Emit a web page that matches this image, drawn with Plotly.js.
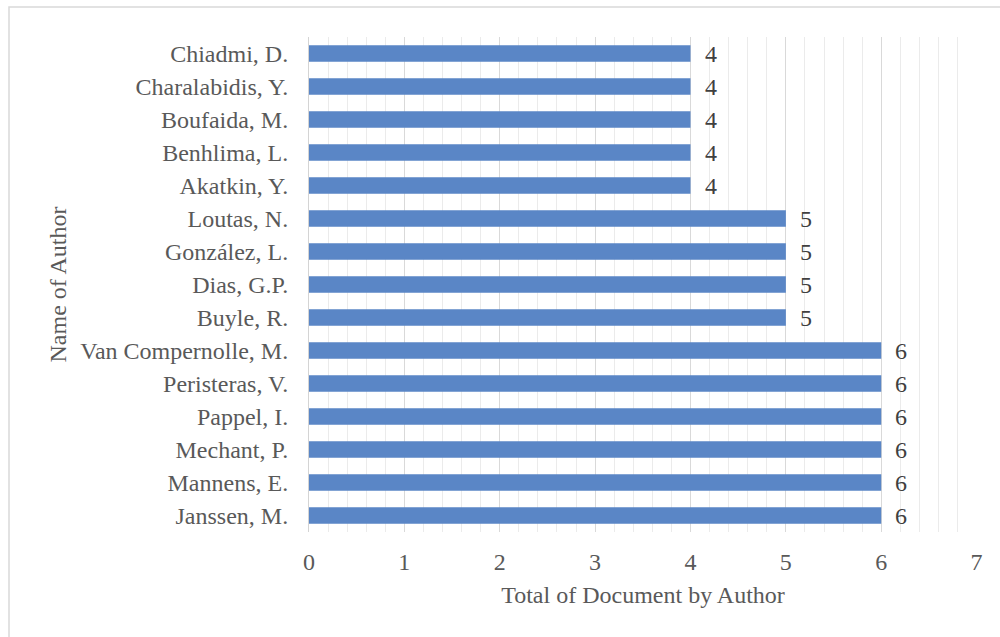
<!DOCTYPE html>
<html><head><meta charset="utf-8">
<script src="https://cdn.plot.ly/plotly-3.0.1.min.js"></script>
<style>html,body{margin:0;padding:0;background:#fff}#chart{width:1000px;height:637px}</style>
</head><body><div id="chart"></div>
<script>
const authors = ["Janssen, M.","Mannens, E.","Mechant, P.","Pappel, I.","Peristeras, V.","Van Compernolle, M.","Buyle, R.","Dias, G.P.","González, L.","Loutas, N.","Akatkin, Y.","Benhlima, L.","Boufaida, M.","Charalabidis, Y.","Chiadmi, D."];
const documents = [6,6,6,6,6,6,5,5,5,5,4,4,4,4,4];
const xTicks = [0,1,2,3,4,5,6,7];

const font = "Liberation Serif, Times New Roman, serif";
const FS = 24;
const W = 1000, H = 637, L = 309, R = 23, T = 37, B = 105;
const pw = W - L - R, ph = H - T - B;

const trace = {
  type: 'bar', orientation: 'h', x: documents, y: authors,
  marker: {color: '#5a86c6', line: {width: 0}},
  hoverinfo: 'x+y'
};

const labels = authors.map((a, i) => ({
  x: documents[i], y: a, xref: 'x', yref: 'y', text: String(documents[i]),
  showarrow: false, xanchor: 'left', xshift: 12,
  font: {family: font, size: FS, color: '#404040'}
}));
labels.push({
  xref: 'paper', yref: 'paper', x: (57 - L) / pw, y: 0.5, text: 'Name of Author',
  textangle: -90, showarrow: false, xanchor: 'center', yanchor: 'middle',
  font: {family: font, size: FS, color: '#595959'}
});

const layout = {
  width: W, height: H,
  margin: {l: L, r: R, t: T, b: B, pad: 0},
  paper_bgcolor: '#fff', plot_bgcolor: '#fff',
  showlegend: false, bargap: 0.5,
  font: {family: font, size: FS, color: '#595959'},
  xaxis: {
    range: [0, 7.004], tickvals: xTicks, ticktext: xTicks.map(String),
    showgrid: true, gridcolor: '#d9d9d9', gridwidth: 1,
    zeroline: false, showline: false, ticks: '',
    ticklabelstandoff: 13,
    minor: {dtick: 0.2, showgrid: true, gridcolor: '#ebebeb', gridwidth: 1, ticks: ''},
    tickfont: {family: font, size: FS, color: '#595959'},
    title: {text: 'Total of Document by Author', standoff: 12, font: {family: font, size: FS, color: '#595959'}},
    fixedrange: true
  },
  yaxis: {
    type: 'category', categoryorder: 'array', categoryarray: authors,
    showgrid: false, zeroline: false, showline: true, linecolor: '#d4d4d4', linewidth: 1,
    ticks: '', ticklabelstandoff: 15,
    tickfont: {family: font, size: FS, color: '#595959'},
    fixedrange: true
  },
  annotations: labels,
  shapes: [{
    type: 'rect', xref: 'paper', yref: 'paper',
    x0: (9 - L) / pw, x1: (1010 - L) / pw,
    y0: (H - B - 650) / ph, y1: (H - B - 7) / ph,
    line: {color: '#d9d9d9', width: 1.5}, fillcolor: 'rgba(0,0,0,0)', layer: 'below'
  }]
};

Plotly.newPlot('chart', [trace], layout, {displayModeBar: false, staticPlot: true});
</script></body></html>
